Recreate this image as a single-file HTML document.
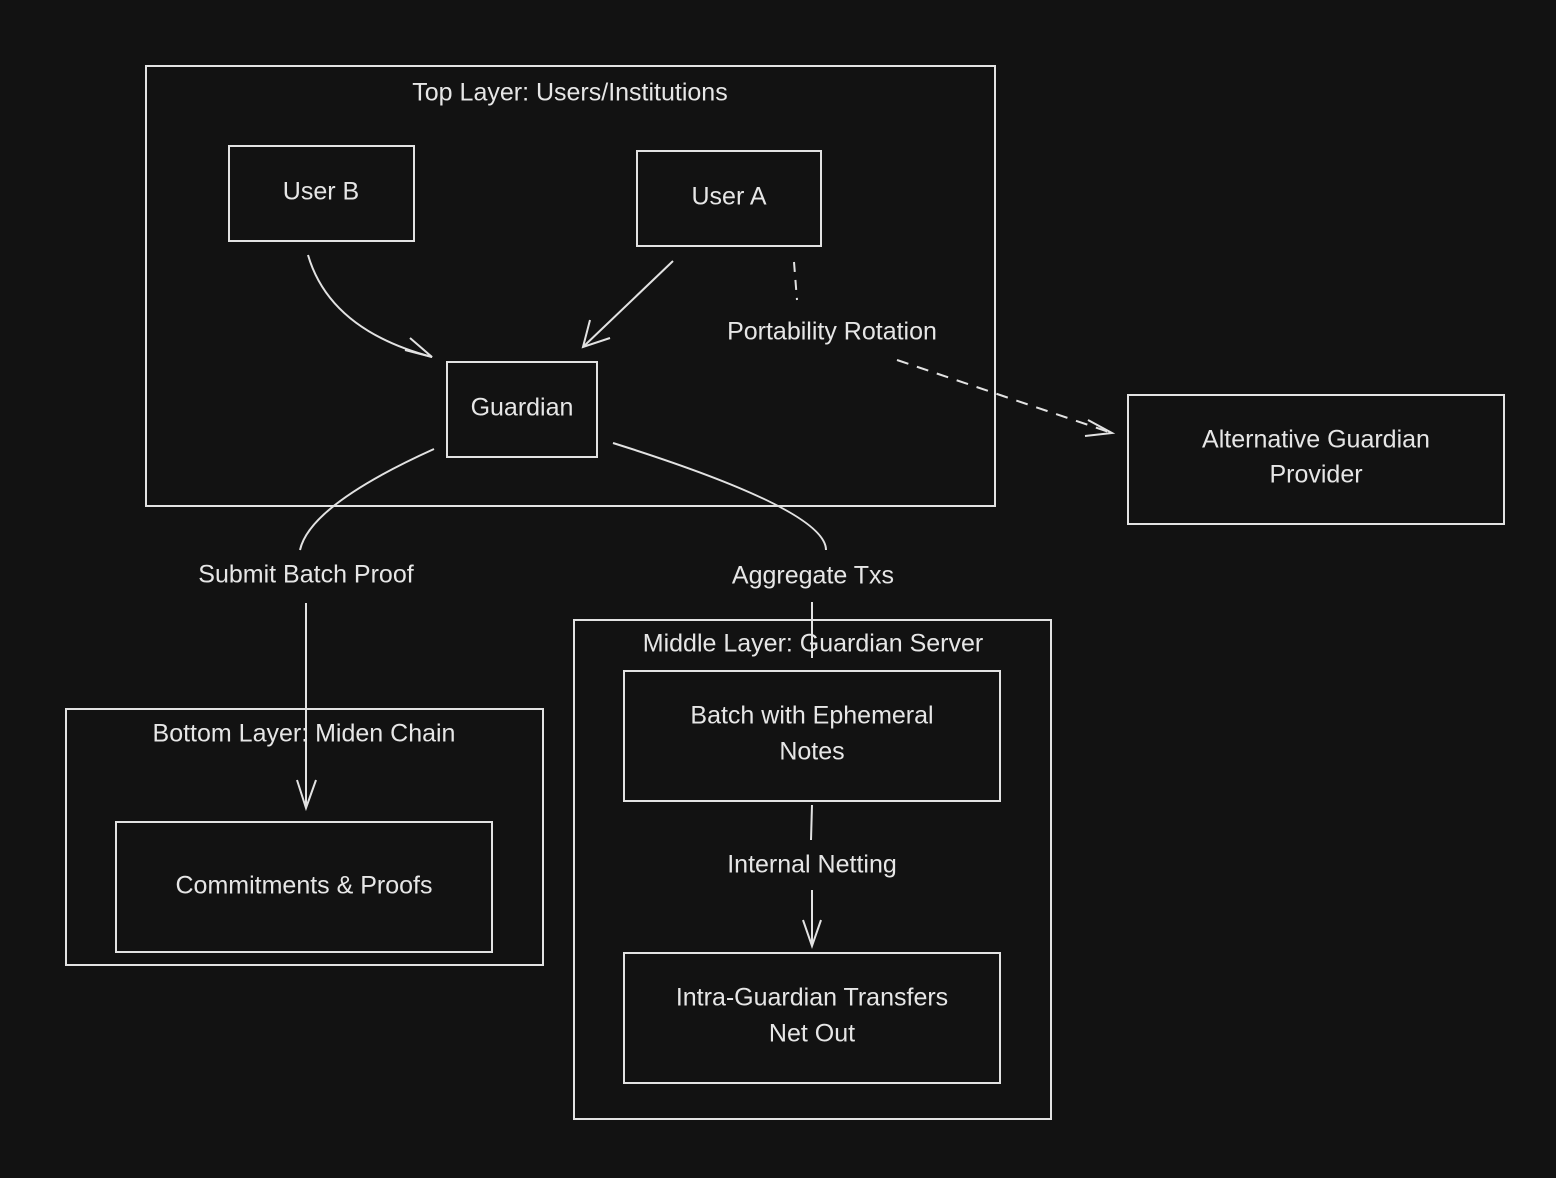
<!DOCTYPE html>
<html><head><meta charset="utf-8"><style>
html,body{margin:0;padding:0;background:#121212;}
svg{display:block}
text{font-family:"Liberation Sans",sans-serif;fill:#e6e6e6;text-anchor:middle;dominant-baseline:middle;font-size:25px}
</style></head><body>
<svg width="1556" height="1178" viewBox="0 0 1556 1178" xmlns="http://www.w3.org/2000/svg">
<rect width="1556" height="1178" fill="#121212"/>
<g fill="none" stroke="#e2e2e2" stroke-width="2">
<rect x="146" y="66" width="849" height="440"/>
<rect x="229" y="146" width="185" height="95"/>
<rect x="637" y="151" width="184" height="95"/>
<rect x="447" y="362" width="150" height="95"/>
<rect x="1128" y="395" width="376" height="129"/>
<rect x="574" y="620" width="477" height="499"/>
<rect x="624" y="671" width="376" height="130"/>
<rect x="624" y="953" width="376" height="130"/>
<rect x="66" y="709" width="477" height="256"/>
<rect x="116" y="822" width="376" height="130"/>
<path d="M308 255 Q330 330 432 357"/>
<path d="M405 350 L432 357 L410 338"/>
<path d="M673 261 L583 347"/>
<path d="M590 320 L583 347 L610 338"/>
<path d="M794 262 L797 300" stroke-dasharray="10 8"/>
<path d="M897 360 L1112 433" stroke-dasharray="12 9"/>
<path d="M1088 420 L1112 433 L1085 436"/>
<path d="M434 449 Q310 505 300 550"/>
<path d="M306 603 L306 808"/>
<path d="M297 780 L306 808 L316 780"/>
<path d="M613 443 Q826 510 826 550"/>
<path d="M812 602 L812 658"/>
<path d="M812 805 L811 840"/>
<path d="M812 890 L812 946"/>
<path d="M803 920 L812 946 L821 920"/>
</g>
<text x="570" y="94">Top Layer: Users/Institutions</text>
<text x="321" y="193" font-size="28">User B</text>
<text x="729" y="198" font-size="28">User A</text>
<text x="522" y="409" font-size="26">Guardian</text>
<text x="832" y="333">Portability Rotation</text>
<text x="1316" y="441">Alternative Guardian</text>
<text x="1316" y="476">Provider</text>
<text x="306" y="576">Submit Batch Proof</text>
<text x="813" y="577">Aggregate Txs</text>
<text x="813" y="645">Middle Layer: Guardian Server</text>
<text x="812" y="717">Batch with Ephemeral</text>
<text x="812" y="753">Notes</text>
<text x="812" y="866">Internal Netting</text>
<text x="812" y="999">Intra-Guardian Transfers</text>
<text x="812" y="1035">Net Out</text>
<text x="304" y="735">Bottom Layer: Miden Chain</text>
<text x="304" y="887">Commitments &amp; Proofs</text>
</svg>
</body></html>
